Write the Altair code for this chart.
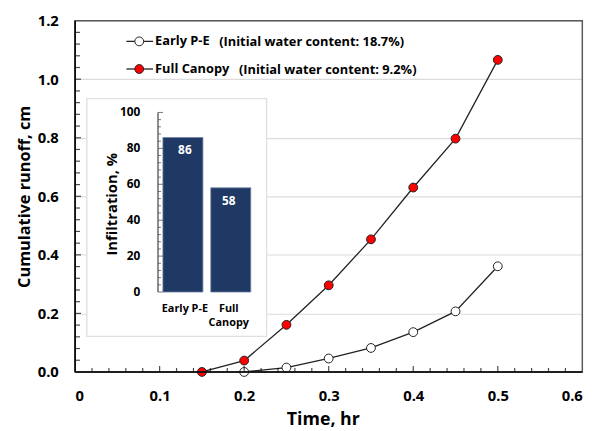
import altair as alt
import pandas as pd

# ---------------- data ----------------
time_full = [0.15, 0.20, 0.25, 0.30, 0.35, 0.40, 0.45, 0.50]
runoff_full = [0.0, 0.039, 0.161, 0.296, 0.453, 0.630, 0.797, 1.066]
time_early = [0.20, 0.25, 0.30, 0.35, 0.40, 0.45, 0.50]
runoff_early = [0.0, 0.015, 0.046, 0.082, 0.136, 0.207, 0.361]

inset_cats = ["Early P-E", "Full Canopy"]
inset_cat_lines = [["Early P-E"], ["Full", "Canopy"]]
inset_vals = [86, 58]

x_major = [0, 0.1, 0.2, 0.3, 0.4, 0.5, 0.6]
x_minor = [0.02, 0.04, 0.06, 0.08, 0.12, 0.14, 0.16, 0.18, 0.22, 0.24, 0.26, 0.28,
           0.32, 0.34, 0.36, 0.38, 0.42, 0.44, 0.46, 0.48, 0.52, 0.54, 0.56, 0.58]
y_major = [0, 0.2, 0.4, 0.6, 0.8, 1.0, 1.2]
y_minor = [0.04, 0.08, 0.12, 0.16, 0.24, 0.28, 0.32, 0.36, 0.44, 0.48, 0.52, 0.56,
           0.64, 0.68, 0.72, 0.76, 0.84, 0.88, 0.92, 0.96, 1.04, 1.08, 1.12, 1.16]
inset_major = [0, 20, 40, 60, 80, 100]
inset_minor = [4, 8, 12, 16, 24, 28, 32, 36, 44, 48, 52, 56, 64, 68, 72, 76, 84, 88, 92, 96]

legend_names = ["Early P-E", "Full Canopy"]
legend_notes = ["(Initial water content: 18.7%)", "(Initial water content: 9.2%)"]

x_title = "Time, hr"
y_title = "Cumulative runoff, cm"
inset_title = "Infiltration, %"

# ---------------- layout ----------------
W, H = 514, 356
FONT = "Open Sans"
BAR_COLOR = "#1f3864"

df_full = pd.DataFrame({"t": time_full, "r": runoff_full})
df_early = pd.DataFrame({"t": time_early, "r": runoff_early})
df_inset = pd.DataFrame({"cat": inset_cats, "val": inset_vals, "lines": inset_cat_lines})

def xs():
    return alt.Scale(domain=[0, 0.6], nice=False, zero=False)

def ys():
    return alt.Scale(domain=[0, 1.2], nice=False, zero=False)

def ixs():
    return alt.Scale(domain=inset_cats, range=[89, 178], paddingInner=0.165, paddingOuter=0)

def iys():
    return alt.Scale(domain=[0, 100], range=[275, 93], nice=False)

# axes / grid (carried by an invisible layer)
axis_layer = alt.Chart(df_full).mark_point(opacity=0).encode(
    x=alt.X("t:Q", scale=xs(), title=x_title,
            axis=alt.Axis(values=x_major, ticks=False, domain=False, grid=False,
                          labelExpr="datum.value == 0 ? '0' : format(datum.value, '.1f')",
                          labelPadding=17, labelFontSize=15, labelFont=FONT,
                          labelFontWeight="bold", labelColor="black",
                          titleFont=FONT, titleFontSize=18, titleFontWeight="bold",
                          titleColor="black", titlePadding=7, titleX=251)),
    y=alt.Y("r:Q", scale=ys(), title=y_title,
            axis=alt.Axis(values=y_major, format=".1f", ticks=False, domain=False,
                          grid=True, gridColor="#dcdcdc", gridWidth=1.2,
                          labelPadding=17, labelFontSize=15, labelFont=FONT,
                          labelFontWeight="bold", labelColor="black",
                          titleFont=FONT, titleFontSize=16.5, titleFontWeight="bold",
                          titleColor="black", titlePadding=5)),
)

# inset background box
inset_box = alt.Chart(df_inset).mark_rect(fill="white", stroke="#e0e0e0", strokeWidth=1.2).encode(
    x=alt.value(12), x2=alt.value(194), y=alt.value(79), y2=alt.value(320)
)

inset_bars = alt.Chart(df_inset).mark_bar(color=BAR_COLOR, stroke="#6d7fa3", strokeWidth=0.8).encode(
    x=alt.X("cat:N", scale=ixs(), axis=None),
    y=alt.Y("val:Q", scale=iys(), axis=None),
)

inset_bar_text = alt.Chart(df_inset).mark_text(
    color="white", font=FONT, fontSize=12, fontWeight="bold", baseline="top", dy=8
).encode(
    x=alt.X("cat:N", scale=ixs(), axis=None),
    y=alt.Y("val:Q", scale=iys(), axis=None),
    text="val:Q",
)

inset_cat_text = alt.Chart(df_inset).mark_text(
    color="black", font=FONT, fontSize=11, fontWeight="bold", baseline="top", lineHeight=14
).encode(
    x=alt.X("cat:N", scale=ixs(), axis=None),
    y=alt.value(286),
    text="lines",
)

inset_axis_line = alt.Chart(pd.DataFrame({"a": [0], "b": [100]})).mark_rule(
    color="#404040", strokeWidth=1.2
).encode(
    x=alt.value(84),
    y=alt.Y("a:Q", scale=iys(), axis=None),
    y2="b:Q",
)

inset_major_ticks = alt.Chart(pd.DataFrame({"v": inset_major})).mark_tick(
    color="#404040", size=5, thickness=1
).encode(
    x=alt.value(86.5),
    y=alt.Y("v:Q", scale=iys(), axis=None),
)

inset_minor_ticks = alt.Chart(pd.DataFrame({"v": inset_minor})).mark_tick(
    color="#404040", size=3, thickness=1
).encode(
    x=alt.value(85.5),
    y=alt.Y("v:Q", scale=iys(), axis=None),
)

inset_tick_labels = alt.Chart(pd.DataFrame({"v": inset_major})).mark_text(
    color="black", font=FONT, fontSize=12, fontWeight="bold", align="right", baseline="middle"
).encode(
    x=alt.value(66),
    y=alt.Y("v:Q", scale=iys(), axis=None),
    text="v:Q",
)

inset_title_text = alt.Chart(pd.DataFrame({"s": [inset_title]})).mark_text(
    color="black", font=FONT, fontSize=15, fontWeight="bold", angle=270
).encode(
    x=alt.value(37), y=alt.value(186), text="s:N"
)

# main series
line_early = alt.Chart(df_early).mark_line(color="#222222", strokeWidth=1.3).encode(
    x=alt.X("t:Q", scale=xs(), axis=None), y=alt.Y("r:Q", scale=ys(), axis=None)
)
pts_early = alt.Chart(df_early).mark_point(
    shape="circle", filled=True, fill="white", stroke="#222222", strokeWidth=1, size=80, opacity=1
).encode(
    x=alt.X("t:Q", scale=xs(), axis=None), y=alt.Y("r:Q", scale=ys(), axis=None)
)
line_full = alt.Chart(df_full).mark_line(color="#222222", strokeWidth=1.3).encode(
    x=alt.X("t:Q", scale=xs(), axis=None), y=alt.Y("r:Q", scale=ys(), axis=None)
)
pts_full = alt.Chart(df_full).mark_point(
    shape="circle", filled=True, fill="#ff0000", stroke="#222222", strokeWidth=1, size=80, opacity=1
).encode(
    x=alt.X("t:Q", scale=xs(), axis=None), y=alt.Y("r:Q", scale=ys(), axis=None)
)

# minor / major ticks (inside)
xt_major = alt.Chart(pd.DataFrame({"v": x_major[1:-1]})).mark_tick(color="black", size=6, thickness=1.2).encode(
    x=alt.X("v:Q", scale=xs(), axis=None), y=alt.value(H - 3)
)
xt_minor = alt.Chart(pd.DataFrame({"v": x_minor})).mark_tick(color="black", size=4, thickness=1.2).encode(
    x=alt.X("v:Q", scale=xs(), axis=None), y=alt.value(H - 2)
)
yt_major = alt.Chart(pd.DataFrame({"v": y_major[1:-1]})).mark_tick(color="black", size=6, thickness=1.2).encode(
    y=alt.Y("v:Q", scale=ys(), axis=None), x=alt.value(3)
)
yt_minor = alt.Chart(pd.DataFrame({"v": y_minor})).mark_tick(color="black", size=5, thickness=1.2).encode(
    y=alt.Y("v:Q", scale=ys(), axis=None), x=alt.value(2.5)
)

# frame
frame = alt.Chart(pd.DataFrame({"a": [0]})).mark_rect(fill=None, stroke="#5a5a5a", strokeWidth=1.5).encode(
    x=alt.value(0), x2=alt.value(W), y=alt.value(0), y2=alt.value(H)
)
left_line = alt.Chart(pd.DataFrame({"a": [0]})).mark_rule(color="black", strokeWidth=1.6).encode(
    x=alt.value(0), y=alt.value(0), y2=alt.value(H)
)
bottom_line = alt.Chart(pd.DataFrame({"a": [0]})).mark_rule(color="black", strokeWidth=1.6).encode(
    x=alt.value(0), x2=alt.value(W), y=alt.value(H)
)

# legend
legend_layers = []
fills = ["white", "#ff0000"]
rows_y = [21, 49]
note_x = [146, 166]
for i in range(2):
    d = pd.DataFrame({"n": [legend_names[i]], "m": [legend_notes[i]]})
    legend_layers.append(alt.Chart(d).mark_rule(color="#222222", strokeWidth=1.3).encode(
        x=alt.value(52), x2=alt.value(79), y=alt.value(rows_y[i])))
    legend_layers.append(alt.Chart(d).mark_point(
        shape="circle", filled=True, fill=fills[i], stroke="#222222", strokeWidth=1, size=80, opacity=1
    ).encode(x=alt.value(65), y=alt.value(rows_y[i])))
    legend_layers.append(alt.Chart(d).mark_text(
        font=FONT, fontSize=13, fontWeight="bold", align="left", baseline="middle", color="black"
    ).encode(x=alt.value(81), y=alt.value(rows_y[i]), text="n:N"))
    legend_layers.append(alt.Chart(d).mark_text(
        font=FONT, fontSize=13, fontWeight="bold", align="left", baseline="middle", color="black"
    ).encode(x=alt.value(note_x[i]), y=alt.value(rows_y[i] + 1), text="m:N"))

chart = alt.layer(
    axis_layer,
    inset_box, inset_bars, inset_bar_text, inset_cat_text, inset_axis_line,
    inset_major_ticks, inset_minor_ticks, inset_tick_labels, inset_title_text,
    line_early, line_full, pts_early, pts_full,
    xt_major, xt_minor, yt_major, yt_minor,
    frame, left_line, bottom_line,
    *legend_layers,
).resolve_scale(
    x="independent", y="independent"
).properties(
    width=W, height=H,
    autosize=alt.AutoSizeParams(type="none"),
    padding={"left": 68, "top": 10, "right": 24, "bottom": 57},
    background="white",
).configure_view(stroke=None)

chart.save("out.html", embed_options={"renderer": "svg", "actions": False})
